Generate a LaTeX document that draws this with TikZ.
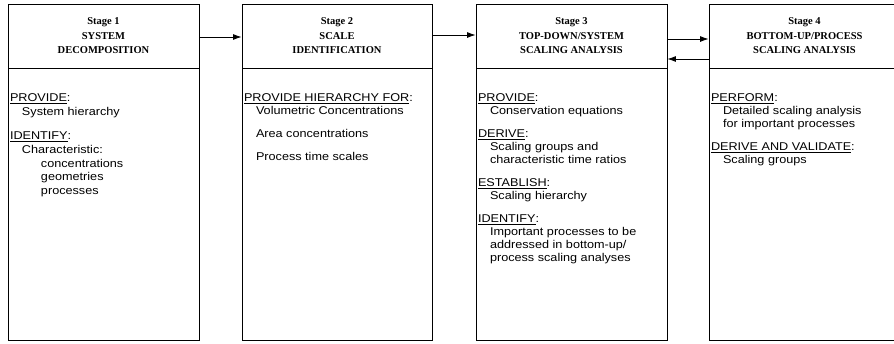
\documentclass[tikz,border=0pt]{standalone}
\usepackage{fontspec}
\usepackage{tikz}
\usetikzlibrary{arrows.meta, positioning}
\setmainfont{Liberation Serif}
\newfontfamily\bodyfont{Liberation Sans}[FakeStretch=1.12]

% heading word of a task list, underlined, colon left plain
\newcommand{\task}[1]{\underline{#1}:}
\newcommand{\ind}{\hspace*{12pt}}
\newcommand{\indd}{\hspace*{31pt}}

\begin{document}
\begin{tikzpicture}[
    x=1pt,
    y={(0pt,-1pt)},
    line width=0.8pt,
    flow/.style={-{Latex[length=8.5pt,width=6pt]}, line width=0.9pt},
    head/.style={draw, minimum height=64pt, inner sep=2pt, align=center,
      font=\bfseries\fontsize{10.5}{14.5}\selectfont},
    body/.style={draw, minimum height=272pt},
    notes/.style={anchor=north west, inner sep=0pt, align=left,
      font=\bodyfont\fontsize{11.3}{13}\selectfont}
  ]
  \useasboundingbox (0,0) rectangle (894,343);
  \clip (0,0) rectangle (894,343);

  % stage headers
  \node[head, minimum width=191pt] (s1head) at (103.5,36) {Stage 1\\SYSTEM\\DECOMPOSITION};
  \node[head, minimum width=190pt] (s2head) at (337,36) {Stage 2\\SCALE\\IDENTIFICATION};
  \node[head, minimum width=191pt] (s3head) at (571.5,36) {Stage 3\\TOP-DOWN/SYSTEM\\SCALING ANALYSIS};
  \node[head, minimum width=191pt] (s4head) at (804.5,36) {Stage 4\\BOTTOM-UP/PROCESS\\SCALING ANALYSIS};

  % stage bodies
  \node[body, minimum width=191pt, below=0pt of s1head] (s1body) {};
  \node[body, minimum width=190pt, below=0pt of s2head] (s2body) {};
  \node[body, minimum width=191pt, below=0pt of s3head] (s3body) {};
  \node[body, minimum width=191pt, below=0pt of s4head] (s4body) {};

  \node[notes, font=\bodyfont\fontsize{11.3}{13.6}\selectfont] (s1text)
    at ([xshift=2pt,yshift=-25pt]s1body.north west) {
    \task{PROVIDE}\\
    \ind System hierarchy\\[11pt]
    \task{IDENTIFY}\\
    \ind Characteristic:\\
    \indd concentrations\\
    \indd geometries\\
    \indd processes
  };
  \node[notes] (s2text) at ([xshift=2pt,yshift=-25pt]s2body.north west) {
    \task{PROVIDE HIERARCHY FOR}\\
    \ind Volumetric Concentrations\\[10pt]
    \ind Area concentrations\\[10pt]
    \ind Process time scales
  };
  \node[notes] (s3text) at ([xshift=2pt,yshift=-25pt]s3body.north west) {
    \task{PROVIDE}\\
    \ind Conservation equations\\[10pt]
    \task{DERIVE}\\
    \ind Scaling groups and\\
    \ind characteristic time ratios\\[10pt]
    \task{ESTABLISH}\\
    \ind Scaling hierarchy\\[10pt]
    \task{IDENTIFY}\\
    \ind Important processes to be\\
    \ind addressed in bottom-up/\\
    \ind process scaling analyses
  };
  \node[notes] (s4text) at ([xshift=2pt,yshift=-25pt]s4body.north west) {
    \task{PERFORM}\\
    \ind Detailed scaling analysis\\
    \ind for important processes\\[10pt]
    \task{DERIVE AND VALIDATE}\\
    \ind Scaling groups
  };

  % stage to stage
  \draw[flow] ([yshift=-1pt]s1head.east) -- ([yshift=-1pt]s2head.west);
  \draw[flow] ([yshift=1pt]s2head.east) -- ([yshift=1pt]s3head.west);
  \draw[flow] ([yshift=-3pt]s3head.east) -- ([yshift=-3pt]s4head.west);
  \draw[flow] ([yshift=-23pt]s4head.west) -- ([yshift=-23pt]s3head.east);
\end{tikzpicture}
\end{document}
